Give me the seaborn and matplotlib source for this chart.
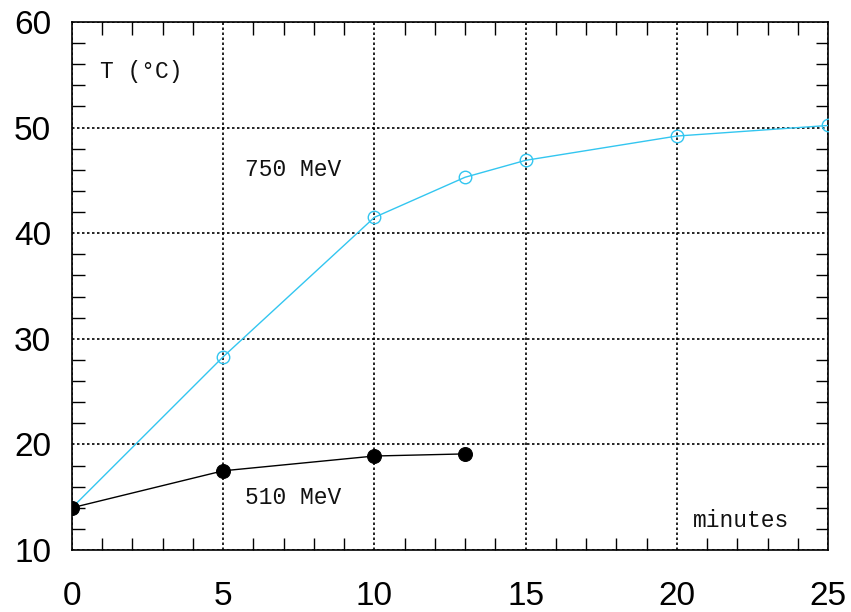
import matplotlib
matplotlib.use("Agg")
import matplotlib.pyplot as plt
import seaborn as sns
import pandas as pd
from matplotlib.ticker import MultipleLocator

# Data
t750 = [0, 5, 10, 13, 15, 20, 25]
T750 = [14.0, 28.3, 41.5, 45.3, 46.9, 49.2, 50.2]
t510 = [0, 5, 10, 13]
T510 = [14.0, 17.5, 18.9, 19.1]
xticks = [0, 5, 10, 15, 20, 25]
yticks = [10, 20, 30, 40, 50, 60]

sns.set_theme(style="white")
plt.rcParams['font.family'] = ['Liberation Sans', 'DejaVu Sans']

fig = plt.figure(figsize=(8.51, 6.12), dpi=100)
ax = fig.add_axes([72/851, 62/612, 756/851, 528/612])

df750 = pd.DataFrame({"t": t750, "T": T750})
df510 = pd.DataFrame({"t": t510, "T": T510})

cyan = "#33c6f0"
sns.lineplot(data=df750, x="t", y="T", ax=ax, color=cyan, lw=1.0,
             marker="o", markersize=9, markerfacecolor="none",
             markeredgecolor=cyan, markeredgewidth=1.0, zorder=3)
sns.lineplot(data=df510, x="t", y="T", ax=ax, color="black", lw=1.0,
             marker="o", markersize=10, markerfacecolor="black",
             markeredgecolor="black", zorder=4)

ax.set_xlim(0, 25)
ax.set_ylim(10, 60)
ax.set_xticks(xticks)
ax.set_yticks(yticks)
ax.xaxis.set_minor_locator(MultipleLocator(1))
ax.yaxis.set_minor_locator(MultipleLocator(2))
ax.set_xlabel("")
ax.set_ylabel("")

ax.grid(True, which="major", color="black", linestyle=(0, (1.5, 1.5)), lw=1.2)
ax.tick_params(which="both", direction="in", top=True, right=True,
               bottom=True, left=True, color="black", labelcolor="black")
ax.tick_params(which="major", length=0, labelsize=24, pad=22)
ax.tick_params(axis="y", which="major", pad=15)
ax.tick_params(which="minor", length=9, width=1)
for s in ax.spines.values():
    s.set_visible(True)
    s.set_color("black")
    s.set_linewidth(1.2)

mono = dict(family=["Liberation Mono", "DejaVu Sans Mono"], fontsize=16.5, color="#111111")
ax.text(0.93, 55.3, "T (°C)", va="center", ha="left", **mono)
ax.text(5.72, 46.0, "750 MeV", va="center", ha="left", **mono)
ax.text(5.72, 15.0, "510 MeV", va="center", ha="left", **mono)
ax.text(20.55, 12.75, "minutes", va="center", ha="left", **mono)

fig.savefig("out.png", dpi=100)
